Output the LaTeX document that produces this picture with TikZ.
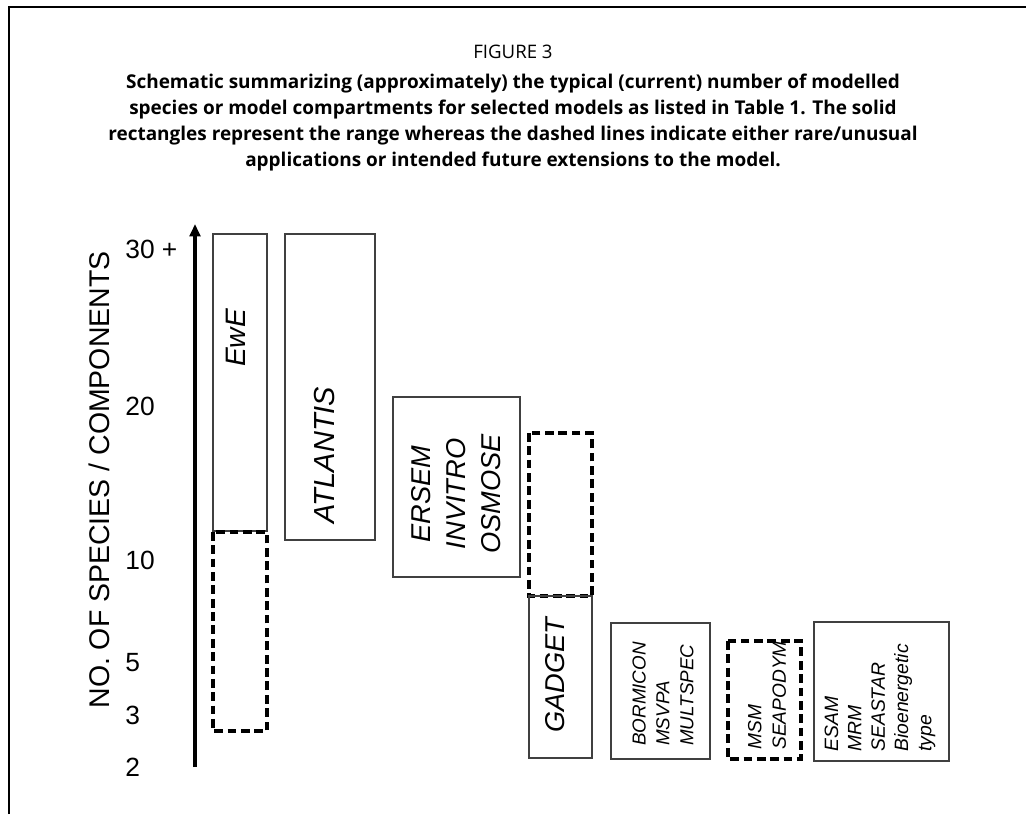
\documentclass[tikz,border=0pt]{standalone}
\usepackage{fontspec}
\setmainfont{Liberation Sans}
\newfontfamily\capfont{Open Sans}
\usetikzlibrary{arrows.meta}
\tikzset{
  solidbox/.style={draw=black!75, line width=0.8pt},
  dashbox/.style={draw=black, line width=1.8pt, dash pattern=on 5pt off 2.6pt},
  model/.style={rotate=90, inner sep=0pt, font=\itshape},
  tick/.style={anchor=west, inner sep=0pt, font=\fontsize{15}{17}\selectfont}
}
\begin{document}
\begin{tikzpicture}[x=0.02cm, y=-0.02cm]
  \useasboundingbox (0,0) rectangle (1026,814);
  % frame
  \draw[line width=0.8pt] (9,814) -- (9,7) -- (1026,7);
  % caption
  \node[font=\capfont\fontsize{10.6}{14.5}\selectfont] (fig) at (513,52) {FIGURE 3};
  \node[font=\capfont\bfseries\fontsize{10.8}{14.7}\selectfont, align=center, anchor=north]
    (caption) at (513,68) {Schematic summarizing (approximately) the typical (current) number of modelled\\
    species or model compartments for selected models as listed in Table 1. The solid\\
    rectangles represent the range whereas the dashed lines indicate either rare/unusual\\
    applications or intended future extensions to the model.};
  % axis
  \coordinate (bot) at (195,767);
  \coordinate (top) at (195,224);
  \draw[line width=2.3pt, -{Triangle[length=7pt, width=6pt]}] (bot) -- (top);
  \node[rotate=90, font=\fontsize{16.2}{19}\selectfont] (ylabel) at (99,480)
    {NO. OF SPECIES / COMPONENTS};
  \node[tick] (t30) at (125,249) {30 +};
  \node[tick] (t20) at (125,406) {20};
  \node[tick] (t10) at (125,560) {10};
  \node[tick] (t5) at (125,663) {5};
  \node[tick] (t3) at (125,715) {3};
  \node[tick] (t2) at (125,767) {2};
  % ranges
  \draw[solidbox] (213,234) rectangle (267,531);
  \draw[dashbox] (213,532) rectangle (267,731);
  \draw[solidbox] (285,234) rectangle (375,540);
  \draw[solidbox] (393,397) rectangle (520,577);
  \draw[dashbox] (529,433) rectangle (592,596);
  \draw[solidbox] (529,596) rectangle (592,758);
  \draw[solidbox] (611,623) rectangle (710,759);
  \draw[dashbox] (728,641) rectangle (801,759);
  \draw[solidbox] (814,622) rectangle (949,761);
  % model names
  \node[model, font=\itshape\fontsize{16}{19}\selectfont] (ewe) at (236,338) {EwE};
  \node[model, font=\itshape\fontsize{16.5}{19}\selectfont] (atlantis) at (325,455) {ATLANTIS};
  \node[model, align=center, font=\itshape\fontsize{15.5}{19.8}\selectfont] (ersem) at (456,494)
    {ERSEM\\INVITRO\\OSMOSE};
  \node[model, font=\itshape\fontsize{15.5}{19}\selectfont] (gadget) at (555,675) {GADGET};
  \node[model, anchor=west, align=left, font=\itshape\fontsize{10.7}{13.6}\selectfont] (bormicon)
    at (663,746) {BORMICON\\MSVPA\\MULTSPEC};
  \node[model, anchor=west, align=left, font=\itshape\fontsize{10.9}{14}\selectfont] (msm)
    at (767,750) {MSM\\SEAPODYM};
  \node[model, anchor=west, align=left, font=\itshape\fontsize{11}{13.3}\selectfont] (esam)
    at (880,752) {ESAM\\MRM\\SEASTAR\\Bioenergetic\\type};
\end{tikzpicture}
\end{document}
